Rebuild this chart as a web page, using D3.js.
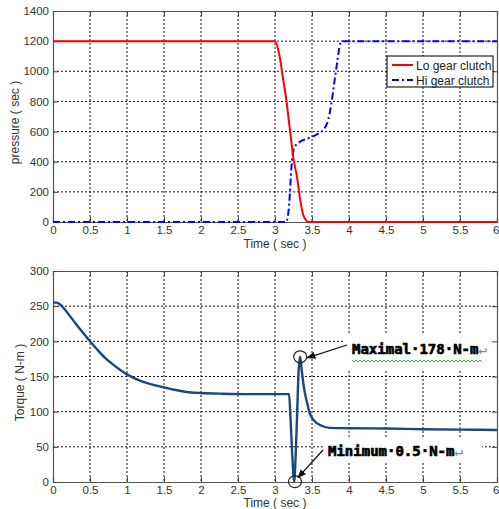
<!DOCTYPE html>
<html><head><meta charset="utf-8">
<script src="https://cdn.jsdelivr.net/npm/d3@7"></script>
<style>
html,body{margin:0;padding:0;background:#fff;}
svg{display:block;}
</style></head>
<body>
<svg id="chart" width="499" height="509"></svg>
<script>
// ---------- data ----------
const timeTicks = [0,0.5,1,1.5,2,2.5,3,3.5,4,4.5,5,5.5,6];
const timeTickLabels = ["0","0.5","1","1.5","2","2.5","3","3.5","4","4.5","5","5.5","6"];
const pressureTicks = [0,200,400,600,800,1000,1200,1400];
const torqueTicks = [0,50,100,150,200,250,300];

const loTime     = [0,   3.0, 3.04,3.08,3.1, 3.15,3.2, 3.25,3.3, 3.34,3.38,3.42,3.45,6];
const loPressure = [1200,1200,1150,1050,980, 820, 620, 420, 290, 150, 50,  10,  0,   0];

const hiTime     = [0,3.15,3.18,3.2,3.22,3.24,3.27,3.33,3.45,3.56,3.65,3.72,3.76,3.8,3.84,3.88,3.9,6];
const hiPressure = [0,0,   60,  180,350, 450, 500, 530, 555, 580, 610, 680, 780, 920,1060,1180,1200,1200];

const torqueTime  = [0,0.05,0.1,0.2,0.3,0.4,0.5,0.6,0.7,0.8,0.9,1.0,1.2,1.4,1.6,1.8,2.0,2.3,2.6,3.0,3.19,3.21,3.23,3.26,3.28,3.30,3.32,3.34,3.36,3.39,3.43,3.47,3.54,3.63,3.74,4.0,4.5,5.0,5.5,6];
const torqueValue = [255,255,252,240,226,213,200,188,177,168,160,153,143,137,132,128,126.5,125.5,125,125,125,90,45,0.5,40,100,160,178,160,135,114,98,86,80,77,76.5,76,75,74.5,74];

const legendLabels = ["Lo gear clutch","Hi gear clutch"];
const maxPoint = [3.34,178];
const minPoint = [3.27,0.5];
const maxText = "Maximal·178·N-m";
const minText = "Minimum·0.5·N-m";

// ---------- layout ----------
const svg = d3.select("#chart");
const X0 = 53, X1 = 497;
const x = d3.scaleLinear().domain([0,6]).range([X0,X1]);
const yTop = d3.scaleLinear().domain([0,1400]).range([222,11]);
const yBot = d3.scaleLinear().domain([0,300]).range([482,271]);

const tickFont = "'Liberation Sans', Arial, sans-serif";
const textCol = "#333";

function panel(y, yTicks) {
  const g = svg.append("g");
  const [yb, yt] = y.range();
  g.append("g").selectAll("line").data(timeTicks.slice(1,-1)).join("line")
    .attr("x1", d=>x(d)).attr("x2", d=>x(d)).attr("y1", yt).attr("y2", yb)
    .attr("stroke","#111").attr("stroke-width",1).attr("stroke-dasharray","2,2");
  g.append("g").selectAll("line").data(yTicks.slice(1,-1)).join("line")
    .attr("x1", X0).attr("x2", X1).attr("y1", d=>y(d)).attr("y2", d=>y(d))
    .attr("stroke","#111").attr("stroke-width",1).attr("stroke-dasharray","2,2");
}

function frame(y, yTicks, ylabel, ylabelX, xlabelY) {
  const g = svg.append("g");
  const [yb, yt] = y.range();
  const xb = d3.axisBottom(x).tickValues(timeTicks).tickSize(-5).tickFormat((d,i)=>timeTickLabels[i]).tickPadding(6);
  const gx = g.append("g").attr("transform",`translate(0,${yb})`).call(xb);
  const xt = d3.axisTop(x).tickValues(timeTicks).tickSize(-5).tickFormat("");
  const gxt = g.append("g").attr("transform",`translate(0,${yt})`).call(xt);
  const yl = d3.axisLeft(y).tickValues(yTicks).tickSize(-5).tickPadding(4).tickFormat(d3.format("d"));
  const gy = g.append("g").attr("transform",`translate(${X0},0)`).call(yl);
  const yr = d3.axisRight(y).tickValues(yTicks).tickSize(-5).tickFormat("");
  const gyr = g.append("g").attr("transform",`translate(${X1},0)`).call(yr);
  [gx,gxt,gy,gyr].forEach(a=>{
    a.select(".domain").attr("stroke","#555").attr("stroke-width",1.2);
    a.selectAll(".tick line").attr("stroke","#444");
    a.selectAll("text").attr("fill",textCol).style("font-family",tickFont).style("font-size","11.5px");
  });
  gx.selectAll("text").attr("dy","0.55em");
  // keep the last tick label ("6") inside the window
  gx.selectAll(".tick text").filter(d=>d===6).attr("text-anchor","end").attr("x",2);
  g.append("text").attr("x", 275).attr("y", xlabelY).attr("text-anchor","middle")
    .attr("fill",textCol).style("font-family",tickFont).style("font-size","12px").text("Time ( sec )");
  g.append("text").attr("transform",`translate(${ylabelX},${(yt+yb)/2 + 6}) rotate(-90)`)
    .attr("text-anchor","middle").attr("fill",textCol)
    .style("font-family",tickFont).style("font-size","12px").text(ylabel);
}

// ---------- top panel ----------
panel(yTop, pressureTicks);
frame(yTop, pressureTicks, "pressure ( sec )", 19, 248);
const topLines = svg.append("g");
const loData = loTime.map((t,i)=>[t, loPressure[i]]);
const hiData = hiTime.map((t,i)=>[t, hiPressure[i]]);
const lineTop = d3.line().x(d=>x(d[0])).y(d=>yTop(d[1])).curve(d3.curveMonotoneX);
topLines.append("path").datum(hiData).attr("d", lineTop).attr("fill","none")
  .attr("stroke","#0000ff").attr("stroke-width",2).attr("stroke-dasharray","7,3,2,3");
topLines.append("path").datum(loData).attr("d", lineTop).attr("fill","none")
  .attr("stroke","#ff0000").attr("stroke-width",2);

// legend
const lg = svg.append("g").attr("transform","translate(387,56)");
lg.append("rect").attr("width",106).attr("height",31).attr("fill","#fff").attr("stroke","#222").attr("stroke-width",1.2);
const legendColors = ["#ff0000","#0000ff"];
const legendDash = [null,"7,3,2,3"];
legendLabels.forEach((lab,i)=>{
  const yy = 9 + i*15;
  lg.append("line").attr("x1",5).attr("x2",26).attr("y1",yy).attr("y2",yy)
    .attr("stroke",legendColors[i]).attr("stroke-width",2).attr("stroke-dasharray",legendDash[i]);
  lg.append("text").attr("x",29).attr("y",yy+4.5).attr("fill","#222")
    .style("font-family",tickFont).style("font-size","12px").text(lab);
});

// ---------- bottom panel ----------
panel(yBot, torqueTicks);
svg.append("rect").attr("x",345).attr("y",334).attr("width",151).attr("height",36).attr("fill","#fff");
svg.append("rect").attr("x",323).attr("y",437).attr("width",159).attr("height",26).attr("fill","#fff");
frame(yBot, torqueTicks, "Torque ( N-m )", 24, 507);

const torqueData = torqueTime.map((t,i)=>[t, torqueValue[i]]);
const lineBot = d3.line().x(d=>x(d[0])).y(d=>yBot(d[1])).curve(d3.curveMonotoneX);
svg.append("path").datum(torqueData).attr("d", lineBot).attr("fill","none")
  .attr("stroke","#1d4580").attr("stroke-width",2.4).attr("stroke-linejoin","round");

// annotations
const defs = svg.append("defs");
defs.append("marker").attr("id","arr").attr("viewBox","0 0 10 10").attr("refX",9).attr("refY",5)
  .attr("markerWidth",7).attr("markerHeight",7).attr("orient","auto")
  .append("path").attr("d","M0,1 L10,5 L0,9 Z").attr("fill","#111");

const ann = svg.append("g");
[maxPoint, minPoint].forEach(p=>{
  ann.append("ellipse").attr("cx", x(p[0])).attr("cy", yBot(p[1])).attr("rx",6.5).attr("ry",6)
    .attr("fill","none").attr("stroke","#222").attr("stroke-width",1.2);
});
ann.append("line").attr("x1",347).attr("y1",345).attr("x2",x(maxPoint[0])+7).attr("y2",yBot(maxPoint[1])+1)
  .attr("stroke","#111").attr("stroke-width",1.3).attr("marker-end","url(#arr)");
ann.append("line").attr("x1",323).attr("y1",450).attr("x2",x(minPoint[0])+3).attr("y2",yBot(minPoint[1])-4)
  .attr("stroke","#111").attr("stroke-width",1.3).attr("marker-end","url(#arr)");

const annFont = "'DejaVu Sans Mono', 'Liberation Mono', monospace";
function annText(xx, yy, txt) {
  const t = ann.append("text").attr("x",xx).attr("y",yy)
    .style("font-family",annFont).style("font-size","14px");
  t.append("tspan").attr("fill","#000").attr("stroke","#000").attr("stroke-width",0.7)
    .style("font-weight","bold").text(txt);
  t.append("tspan").attr("fill","#888").style("font-weight","normal").text("↵");
}
annText(352, 354, maxText);
annText(328, 456, minText);

let zz = "M352,360";
for (let xx = 354, k = 0; xx <= 482; xx += 2, k++) zz += ` L${xx},${k%2===0 ? 362 : 360}`;
ann.append("path").attr("d", zz).attr("fill","none").attr("stroke","#3cb043").attr("stroke-width",1);
</script>
</body></html>
